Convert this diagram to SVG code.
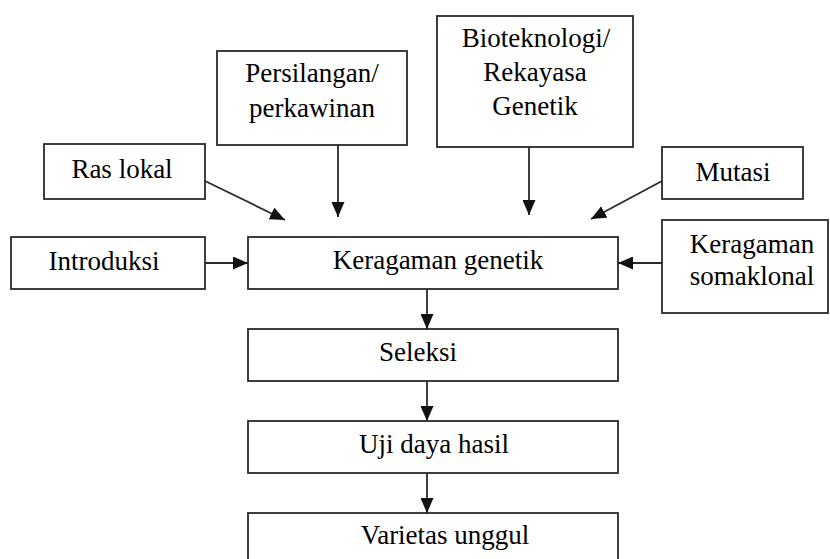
<svg xmlns="http://www.w3.org/2000/svg" width="830" height="559" viewBox="0 0 830 559">
<style>
.box{fill:#fff;stroke:#2a2a2a;stroke-width:1.8}
.t{font-family:"Liberation Serif","Times New Roman",serif;font-size:27px;fill:#000;text-anchor:middle}
.c{stroke:#2a2a2a;stroke-width:1.8;fill:none;marker-end:url(#ah)}
</style>
<defs>
<marker id="ah" markerUnits="userSpaceOnUse" markerWidth="15" markerHeight="13" refX="15" refY="6.5" orient="auto">
<path d="M0,0 L15,6.5 L0,13 z" fill="#111"/>
</marker>
</defs>
<rect width="830" height="559" fill="#fff"/>
<g id="persilangan"><rect class="box" x="217" y="51" width="190" height="94"/><text class="t" x="312" y="82">Persilangan/</text><text class="t" x="312" y="117">perkawinan</text></g>
<g id="bioteknologi"><rect class="box" x="437" y="16" width="196" height="131"/><text class="t" x="536" y="47">Bioteknologi/</text><text class="t" x="535" y="81">Rekayasa</text><text class="t" x="535" y="115">Genetik</text></g>
<g id="raslokal"><rect class="box" x="44" y="144" width="161" height="55"/><text class="t" x="122" y="178">Ras lokal</text></g>
<g id="mutasi"><rect class="box" x="662" y="147" width="141" height="52"/><text class="t" x="733" y="181">Mutasi</text></g>
<g id="introduksi"><rect class="box" x="11" y="237" width="194" height="52"/><text class="t" x="104" y="270">Introduksi</text></g>
<g id="keragaman"><rect class="box" x="248" y="237" width="370" height="52"/><text class="t" x="438" y="269">Keragaman genetik</text></g>
<g id="somaklonal"><rect class="box" x="662" y="220" width="166" height="93"/><text class="t" x="752" y="253">Keragaman</text><text class="t" x="752" y="285">somaklonal</text></g>
<g id="seleksi"><rect class="box" x="248" y="329" width="370" height="52"/><text class="t" x="418" y="361">Seleksi</text></g>
<g id="uji"><rect class="box" x="248" y="421" width="370" height="52"/><text class="t" x="434" y="453">Uji daya hasil</text></g>
<g id="varietas"><rect class="box" x="248" y="513" width="370" height="60"/><text class="t" x="445" y="544">Varietas unggul</text></g>
<g id="connectors">
<line class="c" x1="338" y1="145" x2="338" y2="217"/>
<line class="c" x1="529" y1="147" x2="529" y2="215"/>
<line class="c" x1="205" y1="181" x2="285" y2="220"/>
<line class="c" x1="662" y1="181" x2="591" y2="219"/>
<line class="c" x1="205" y1="263" x2="248" y2="263"/>
<line class="c" x1="662" y1="263" x2="618" y2="263"/>
<line class="c" x1="427" y1="289" x2="427" y2="329"/>
<line class="c" x1="427" y1="381" x2="427" y2="421"/>
<line class="c" x1="427" y1="473" x2="427" y2="513"/>
</g>
</svg>
